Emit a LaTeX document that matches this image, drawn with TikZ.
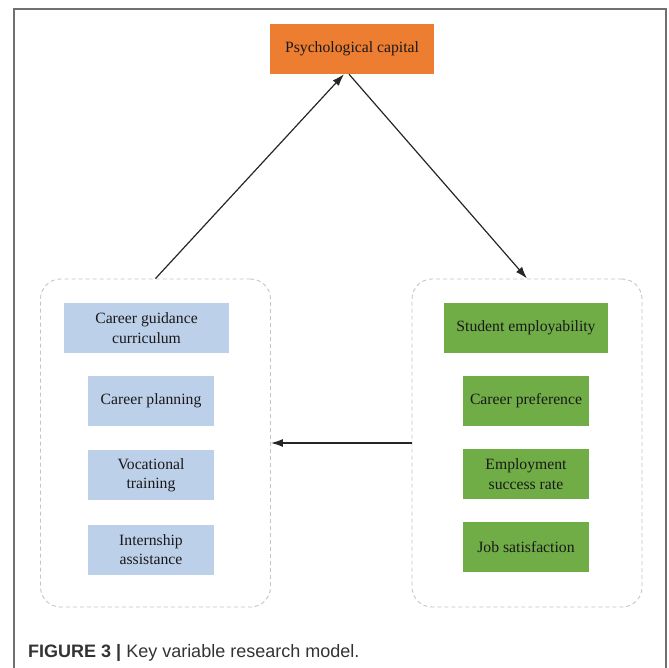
\documentclass[tikz,border=0pt]{standalone}
\usepackage{fontspec}
\setmainfont{Liberation Serif}
\newfontfamily\capfont{Liberation Sans}
\usetikzlibrary{arrows.meta,calc}
\definecolor{orangebox}{HTML}{ED7D31}
\definecolor{bluebox}{HTML}{BDD0EA}
\definecolor{greenbox}{HTML}{70AD47}
\definecolor{dashgray}{HTML}{C4C4C4}
\definecolor{framegray}{HTML}{707070}
\definecolor{captext}{HTML}{333333}
\tikzset{
  box/.style={rectangle, inner sep=0pt, align=center, text=black!90,
    font=\fontsize{15.7}{19.5}\selectfont, minimum height=50pt},
  psybox/.style={box, fill=orangebox, minimum width=164pt},
  bluenode/.style={box, fill=bluebox},
  greennode/.style={box, fill=greenbox},
  groupbox/.style={rectangle, draw=dashgray, dash pattern=on 4pt off 3pt,
    line width=0.9pt, rounded corners=20pt, minimum width=230pt, minimum height=328pt},
  conn/.style={draw=black!85, line width=1.2pt, -{Latex[length=12pt,width=8pt]}}
}
\begin{document}
\begin{tikzpicture}[x=1pt,y=-1pt]
\useasboundingbox (0,0) rectangle (669,668);
% frame
\draw[framegray, line width=1.3pt] (14,668) -- (14,9) -- (666,9) -- (666,668);
% groups
\node[groupbox] (lbox) at (155.5,443) {};
\node[groupbox] (rbox) at (527,443) {};
% top node
\node[psybox] (psy) at (352,49) {Psychological capital};
% left items
\node[bluenode, minimum width=165pt] (cgc) at (146.5,328) {Career guidance\\curriculum};
\node[bluenode, minimum width=126pt] (cp) at (151,401) {Career planning};
\node[bluenode, minimum width=126pt] (vt) at (151,475) {Vocational\\training};
\node[bluenode, minimum width=126pt] (ia) at (151,549.5) {Internship\\assistance};
% right items
\node[greennode, minimum width=164pt] (se) at (526,328) {Student employability};
\node[greennode, minimum width=126pt] (cpr) at (526,401) {Career preference};
\node[greennode, minimum width=126pt] (esr) at (526,474) {Employment\\success rate};
\node[greennode, minimum width=126pt] (js) at (526,547) {Job satisfaction};
% connectors
\draw[conn] (lbox.north) -- ($(psy.south)+(-8,0)$);
\draw[conn] ($(psy.south)+(-3,0)$) -- (rbox.north);
\draw[conn] (rbox.west) -- (lbox.east);
% caption
\node[anchor=base west, inner sep=0pt, text=captext, font=\capfont\fontsize{18}{20}\selectfont] (cap) at (28,657)
  {\textbf{FIGURE 3 |} Key variable research model.};
\end{tikzpicture}
\end{document}
